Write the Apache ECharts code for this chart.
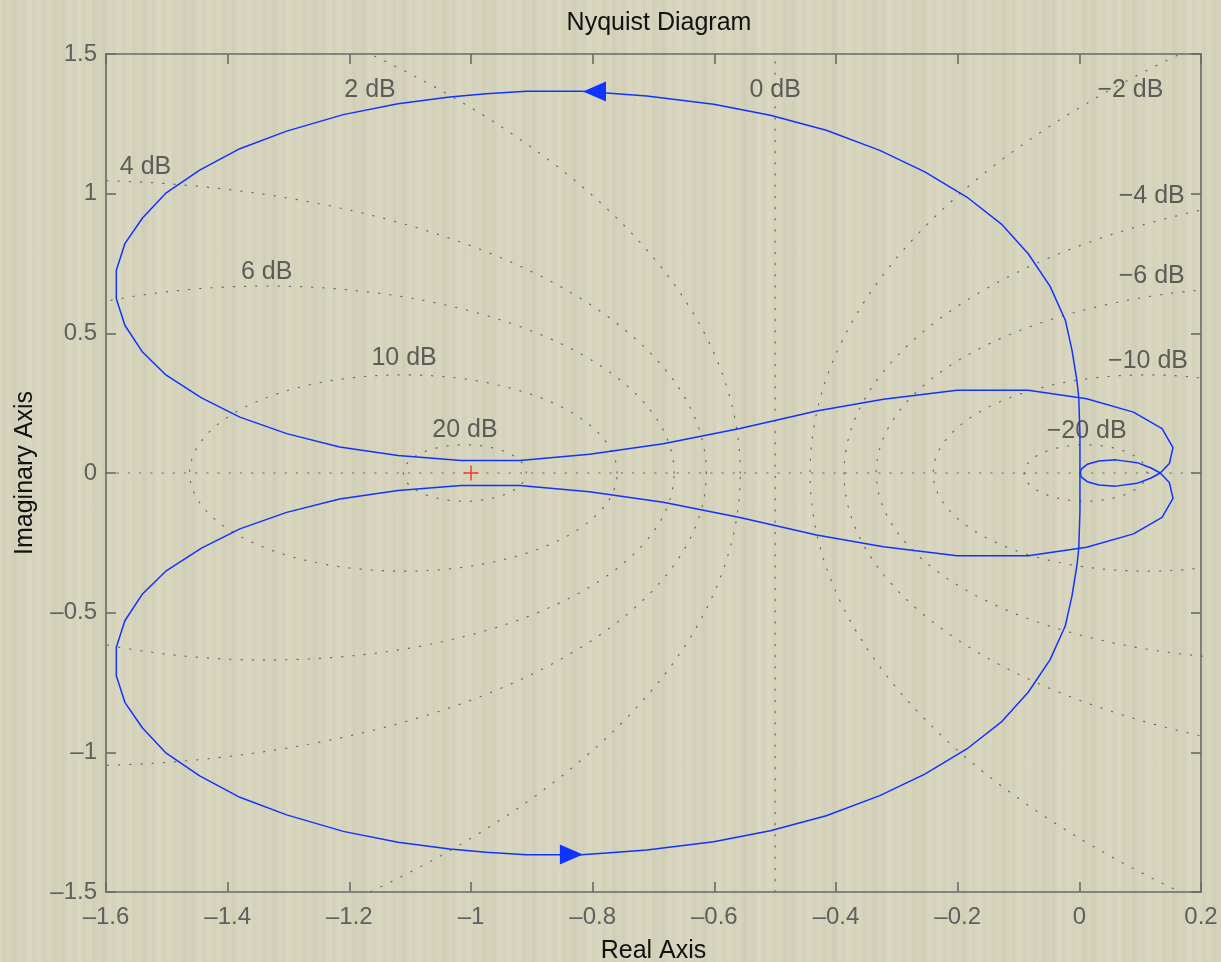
<!DOCTYPE html>
<html><head><meta charset="utf-8">
<script src="https://cdn.jsdelivr.net/npm/echarts@6/dist/echarts.min.js"></script>
<style>
html,body{margin:0;padding:0;width:1221px;height:962px;overflow:hidden;}
body{background-color:#d6d4bb;
background-image:
 repeating-linear-gradient(90deg, rgba(255,255,255,0.07) 0px, rgba(255,255,255,0.0) 2px, rgba(0,0,0,0.02) 4px, rgba(255,255,255,0.03) 7px, rgba(255,255,255,0.07) 10px),
 repeating-linear-gradient(90deg, rgba(0,0,0,0.0) 0px, rgba(0,0,0,0.02) 17px, rgba(255,255,255,0.04) 29px, rgba(0,0,0,0.0) 43px);}
#chart{width:1221px;height:962px;}
</style></head>
<body><div id="chart"></div>
<script>
// ---- data ----
const xTicks = [-1.6, -1.4, -1.2, -1, -0.8, -0.6, -0.4, -0.2, 0, 0.2];
const yTicks = [-1.5, -1, -0.5, 0, 0.5, 1, 1.5];

// positive-frequency branch (omega increasing)
const posRe = [0.001, 0.001, -0.001, -0.004, -0.012, -0.023, -0.048, -0.084, -0.127, -0.185,
  -0.254, -0.328, -0.416, -0.508, -0.601, -0.711, -0.777, -0.818, -0.909, -0.975,
  -1.035, -1.120, -1.210, -1.303, -1.380, -1.446, -1.501, -1.540, -1.569, -1.583,
  -1.583, -1.569, -1.540, -1.501, -1.443, -1.380, -1.303, -1.216, -1.120, -1.016,
  -0.920, -0.805, -0.684, -0.558, -0.432, -0.322, -0.201, -0.084, 0.012, 0.089,
  0.136, 0.154, 0.148, 0.133, 0.118, 0.095, 0.060, 0.032, 0.013, 0.004, 0.001];
const posIm = [0, 0.140, 0.272, 0.332, 0.439, 0.547, 0.668, 0.785, 0.889, 0.988,
  1.078, 1.155, 1.227, 1.281, 1.320, 1.350, 1.360, 1.367, 1.367, 1.358,
  1.346, 1.322, 1.283, 1.224, 1.161, 1.084, 1.003, 0.913, 0.821, 0.726,
  0.624, 0.529, 0.433, 0.350, 0.269, 0.200, 0.141, 0.093, 0.063, 0.045,
  0.045, 0.067, 0.105, 0.159, 0.222, 0.264, 0.296, 0.296, 0.266, 0.218,
  0.159, 0.091, 0.034, 0, -0.018, -0.037, -0.047, -0.043, -0.031, -0.016, 0];
// negative-frequency branch
const negRe = [0.001, 0.001, -0.001, -0.004, -0.012, -0.023, -0.048, -0.084, -0.127, -0.185,
  -0.254, -0.328, -0.416, -0.508, -0.601, -0.711, -0.777, -0.818, -0.909, -0.975,
  -1.035, -1.120, -1.210, -1.303, -1.380, -1.446, -1.501, -1.540, -1.569, -1.583,
  -1.583, -1.569, -1.540, -1.501, -1.443, -1.380, -1.303, -1.216, -1.120, -1.016,
  -0.920, -0.805, -0.684, -0.558, -0.432, -0.322, -0.201, -0.084, 0.012, 0.089,
  0.136, 0.154, 0.148, 0.133, 0.118, 0.095, 0.060, 0.032, 0.013, 0.004, 0.001];
const negIm = [0, -0.140, -0.272, -0.332, -0.439, -0.547, -0.668, -0.785, -0.889, -0.988,
  -1.078, -1.155, -1.227, -1.281, -1.320, -1.350, -1.360, -1.367, -1.367, -1.358,
  -1.346, -1.322, -1.283, -1.224, -1.161, -1.084, -1.003, -0.913, -0.821, -0.726,
  -0.624, -0.529, -0.433, -0.350, -0.269, -0.200, -0.141, -0.093, -0.063, -0.045,
  -0.045, -0.067, -0.105, -0.159, -0.222, -0.264, -0.296, -0.296, -0.266, -0.218,
  -0.159, -0.091, -0.034, 0, 0.018, 0.037, 0.047, 0.043, 0.031, 0.016, 0];

// direction arrows (centre of arrowhead) and their pointing direction
const arrowRe = [-0.797, -0.835];
const arrowIm = [1.366, -1.366];
const arrowDir = ['left', 'right'];

// critical point
const critRe = [-1];
const critIm = [0];

// M-circle grid (closed-loop gain, dB) and label placement
const mCircleDb = [-20, -10, -6, -4, -2, 0, 2, 4, 6, 10, 20];
const labelText = ['20 dB', '10 dB', '6 dB', '4 dB', '2 dB', '0 dB', '\u22122 dB', '\u22124 dB', '\u22126 dB', '\u221210 dB', '\u221220 dB'];
const labelRe = [-1.010, -1.110, -1.336, -1.535, -1.166, -0.500, 0.084, 0.119, 0.119, 0.113, 0.012];
const labelIm = [0.153, 0.410, 0.720, 1.096, 1.371, 1.371, 1.371, 0.990, 0.704, 0.400, 0.150];

// ---- build chart ----
const FONT = 'Liberation Sans, Arial, sans-serif';
const XMIN = xTicks[0], XMAX = xTicks[xTicks.length - 1];
const YMIN = yTicks[0], YMAX = yTicks[yTicks.length - 1];
function fmt(v) {
  const s = String(Math.round(v * 10) / 10);
  return s.replace('-', '\u2013');
}
function mCircle(db) {
  if (db === 0) return [[-0.5, YMIN - 0.2], [-0.5, YMAX + 0.2]];
  const M = Math.pow(10, db / 20), M2 = M * M;
  const c = -M2 / (M2 - 1), r = Math.abs(M / (M2 - 1));
  const pts = [];
  for (let k = 0; k <= 720; k++) {
    const a = k * Math.PI / 360;
    pts.push([c + r * Math.cos(a), r * Math.sin(a)]);
  }
  return pts;
}
const gridStyle = { color: '#6a6a64', width: 1.2, type: [1.2, 10], cap: 'round' };
const series = [];
mCircleDb.forEach(db => {
  series.push({ type: 'line', data: mCircle(db), showSymbol: false, silent: true, clip: true,
    lineStyle: gridStyle, z: 1, animation: false });
});
series.push({ type: 'line', data: [[XMIN, 0], [XMAX, 0]], showSymbol: false, silent: true, clip: true,
  lineStyle: gridStyle, z: 1, animation: false });
series.push({ type: 'scatter', symbolSize: 0, silent: true, z: 2, animation: false,
  data: labelText.map((t, i) => [labelRe[i], labelIm[i], t]),
  label: { show: true, position: 'inside', formatter: p => p.value[2],
    color: '#3e3e3e', fontSize: 25, fontFamily: FONT } });
const curveStyle = { color: '#1133ff', width: 1.5 };
series.push({ type: 'line', data: posRe.map((x, i) => [x, posIm[i]]), showSymbol: false, clip: true,
  lineStyle: curveStyle, z: 5, animation: false });
series.push({ type: 'line', data: negRe.map((x, i) => [x, negIm[i]]), showSymbol: false, clip: true,
  lineStyle: curveStyle, z: 5, animation: false });
series.push({ type: 'scatter', z: 6, animation: false, silent: true,
  data: arrowRe.map((x, i) => ({ value: [x, arrowIm[i]], symbolRotate: arrowDir[i] === 'left' ? 90 : -90 })),
  symbol: 'triangle', symbolSize: [20, 23], itemStyle: { color: '#1133ff', opacity: 1 } });
series.push({ type: 'scatter', z: 6, animation: false, silent: true,
  data: critRe.map((x, i) => [x, critIm[i]]),
  symbol: 'path://M0,6.3H14V7.7H0Z M6.3,0H7.7V14H6.3Z', symbolSize: 15,
  itemStyle: { color: '#e5432a', opacity: 1 } });

const axisLine = { show: true, onZero: false, lineStyle: { color: '#6a6a6a', width: 1.6 } };
const axisTickIn = { show: true, inside: true, length: 10, lineStyle: { color: '#6a6a6a', width: 1.6 } };
const tickFont = { color: '#606060', fontSize: 24, fontFamily: FONT };

const option = {
  backgroundColor: 'transparent',
  animation: false,
  title: { text: 'Nyquist Diagram', left: 654, top: 6, textAlign: 'center',
    textStyle: { color: '#111', fontSize: 25, fontWeight: 'normal', fontFamily: FONT } },
  grid: { left: 106, right: 20, top: 54, bottom: 70, containLabel: false, outerBoundsMode: 'none' },
  xAxis: [
    { type: 'value', min: XMIN, max: XMAX, interval: 0.2, position: 'bottom',
      axisLine, axisTick: axisTickIn, splitLine: { show: false },
      axisLabel: Object.assign({ margin: 13, formatter: fmt }, tickFont),
      name: 'Real Axis', nameLocation: 'middle', nameGap: 47,
      nameTextStyle: { color: '#111', fontSize: 25, fontFamily: FONT } },
    { type: 'value', min: XMIN, max: XMAX, interval: 0.2, position: 'top',
      axisLine, axisTick: axisTickIn, splitLine: { show: false }, axisLabel: { show: false } }
  ],
  yAxis: [
    { type: 'value', min: YMIN, max: YMAX, interval: 0.5, position: 'left',
      axisLine, axisTick: axisTickIn, splitLine: { show: false },
      axisLabel: Object.assign({ margin: 9, formatter: fmt }, tickFont),
      name: 'Imaginary Axis', nameLocation: 'middle', nameGap: 68, nameRotate: 90,
      nameTextStyle: { color: '#111', fontSize: 25, fontFamily: FONT } },
    { type: 'value', min: YMIN, max: YMAX, interval: 0.5, position: 'right',
      axisLine, axisTick: axisTickIn, splitLine: { show: false }, axisLabel: { show: false } }
  ],
  series: series
};
const chart = echarts.init(document.getElementById('chart'), null, { renderer: 'canvas' });
chart.setOption(option);
</script>
</body></html>
